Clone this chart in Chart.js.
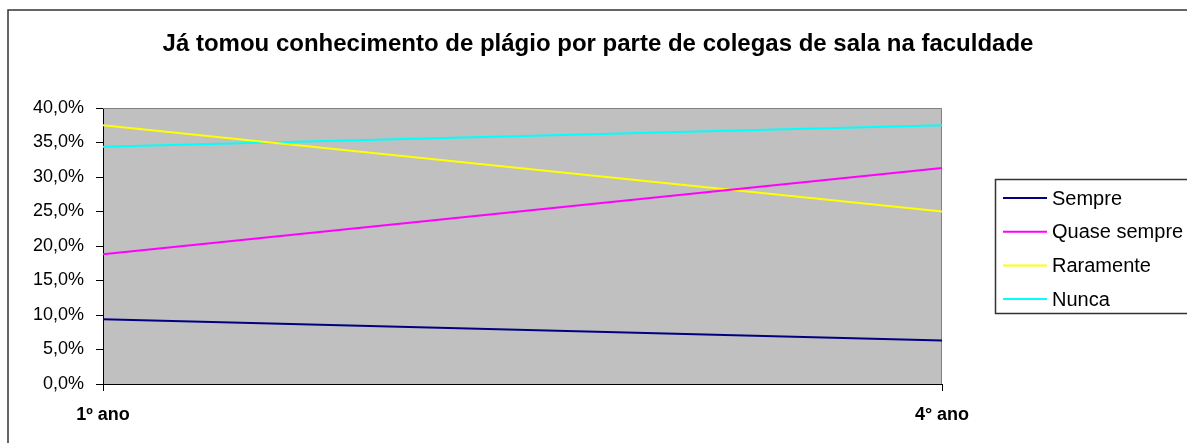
<!DOCTYPE html>
<html>
<head>
<meta charset="utf-8">
<script src="https://cdn.jsdelivr.net/npm/chart.js@4/dist/chart.umd.min.js"></script>
<style>
  body { margin: 0; background: #fff; }
</style>
</head>
<body>
<canvas id="plagioChart" width="1187" height="443"></canvas>
<script>
// dados do gráfico
var anos = ["1º ano", "4° ano"];
var sempre = [9.4, 6.3];
var quaseSempre = [18.8, 31.3];
var raramente = [37.5, 25.0];
var nunca = [34.4, 37.5];
var yTicks = [0, 5, 10, 15, 20, 25, 30, 35, 40];

var titulo = "Já tomou conhecimento de plágio por parte de colegas de sala na faculdade";
var fonte = "Arial, 'Liberation Sans', sans-serif";

// fundo cinza, moldura, título e legenda
var excelLook = {
  id: "excelLook",
  beforeDraw: function (chart) {
    var c = chart.ctx, a = chart.chartArea;
    c.save();
    c.fillStyle = "#fff";
    c.fillRect(0, 0, chart.width, chart.height);
    c.fillStyle = "#c0c0c0";
    c.fillRect(a.left, a.top, a.right - a.left, a.bottom - a.top);
    c.strokeStyle = "#333";
    c.lineWidth = 1.5;
    c.strokeRect(8, 10, chart.width + 10, chart.height + 10);
    c.restore();
  },
  beforeDatasetsDraw: function (chart) {
    var c = chart.ctx, a = chart.chartArea;
    c.save();
    c.strokeStyle = "#808080";
    c.lineWidth = 1;
    c.beginPath();
    c.moveTo(a.left, a.top + 0.5);
    c.lineTo(a.right - 0.5, a.top + 0.5);
    c.lineTo(a.right - 0.5, a.bottom);
    c.stroke();
    c.restore();
  },
  afterDraw: function (chart) {
    var c = chart.ctx;
    c.save();
    // título
    c.fillStyle = "#000";
    c.font = "bold 24px " + fonte;
    c.textAlign = "center";
    c.textBaseline = "middle";
    c.fillText(titulo, 598, 44);
    // legenda
    c.strokeStyle = "#333";
    c.lineWidth = 1.5;
    c.strokeRect(995.5, 179.5, 300, 134);
    c.font = "20px " + fonte;
    c.textAlign = "left";
    chart.data.datasets.forEach(function (ds, i) {
      var y = 198 + i * 33.7;
      c.strokeStyle = ds.borderColor;
      c.lineWidth = 2;
      c.beginPath();
      c.moveTo(1003, y);
      c.lineTo(1047, y);
      c.stroke();
      c.fillStyle = "#000";
      c.fillText(ds.label, 1052, y + 1);
    });
    c.restore();
  }
};

var ctx = document.getElementById("plagioChart").getContext("2d");
var plagioChart = new Chart(ctx, {
  type: "line",
  data: {
    labels: anos,
    datasets: [
      { label: "Sempre", data: sempre, borderColor: "#000080" },
      { label: "Quase sempre", data: quaseSempre, borderColor: "#ff00ff" },
      { label: "Raramente", data: raramente, borderColor: "#ffff00" },
      { label: "Nunca", data: nunca, borderColor: "#00ffff" }
    ]
  },
  options: {
    responsive: false,
    animation: false,
    layout: { padding: { top: 108, right: 245, left: 0, bottom: 0 } },
    elements: {
      line: { borderWidth: 2, tension: 0, fill: false },
      point: { radius: 0 }
    },
    plugins: {
      legend: { display: false },
      title: { display: false },
      tooltip: { enabled: false }
    },
    scales: {
      x: {
        offset: false,
        afterFit: function (s) { s.height = 59; },
        grid: { drawOnChartArea: false, drawTicks: true, tickLength: 7, color: "#000" },
        border: { display: true, color: "#000", width: 1 },
        ticks: {
          padding: 13,
          color: "#000",
          maxRotation: 0,
          font: { family: fonte, size: 18, weight: "bold" }
        }
      },
      y: {
        min: 0,
        max: 40,
        afterFit: function (s) { s.width = 103; },
        afterBuildTicks: function (s) {
          s.ticks = yTicks.map(function (v) { return { value: v }; });
        },
        grid: { drawOnChartArea: false, drawTicks: true, tickLength: 7, color: "#000" },
        border: { display: true, color: "#000", width: 1 },
        ticks: {
          padding: 12,
          color: "#000",
          font: { family: fonte, size: 18 },
          callback: function (v) { return v.toFixed(1).replace(".", ",") + "%"; }
        }
      }
    }
  },
  plugins: [excelLook]
});
</script>
</body>
</html>
